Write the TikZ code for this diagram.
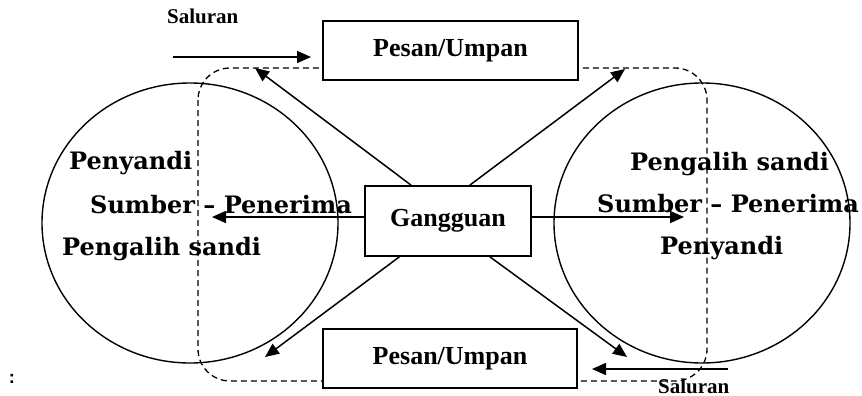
\documentclass[tikz,border=0pt]{standalone}
\usepackage{fontspec}
\usetikzlibrary{shapes.geometric,arrows.meta,calc}
\newfontfamily\boxfont{Liberation Serif}
\newfontfamily\rolefont{DejaVu Serif}

\begin{document}
\begin{tikzpicture}[x=1pt,y=-1pt,
  msgbox/.style={draw, line width=1.7pt, fill=white, inner sep=0pt,
    font=\boxfont\bfseries\fontsize{26}{30}\selectfont},
  party/.style={draw, ellipse, line width=1.4pt, inner sep=0pt,
    minimum width=296pt, minimum height=280pt},
  role/.style={anchor=base west, inner sep=0pt,
    font=\rolefont\bfseries\fontsize{24}{28}\selectfont},
  chan/.style={anchor=base west, inner sep=0pt,
    font=\boxfont\bfseries\fontsize{21}{24}\selectfont},
  flow/.style={line width=1.5pt, -{Triangle[length=14pt,width=12pt]}},
  zone/.style={line width=1.3pt, dash pattern=on 6pt off 4pt, rounded corners=32pt}]

\useasboundingbox (0,0) rectangle (862,396);

% the two communicating parties
\node[party] (lp) at (190,223) {};
\node[party] (rp) at (702,223) {};

% shared field of experience
\draw[zone] (198,68) rectangle (707,381);

% messages and noise
\node[msgbox, minimum width=255pt, minimum height=59pt] (top) at (450.5,50.5) {Pesan/Umpan};
\node[msgbox, minimum width=254pt, minimum height=59pt] (bot) at (450,358.5) {Pesan/Umpan};
\node[msgbox, minimum width=166pt, minimum height=70pt] (g) at (448,221) {Gangguan};

% arrow targets
\coordinate (tl) at (255,68);
\coordinate (tr) at (625,69);
\coordinate (bl) at (265,357);
\coordinate (br) at (627,357);
\coordinate (ml) at (212,217);
\coordinate (mr) at (684,217);

\draw[flow] ($(g.north west)!0.28!(g.north east)$) -- (tl);
\draw[flow] ($(g.north west)!0.63!(g.north east)$) -- (tr);
\draw[flow] ($(g.south west)!0.21!(g.south east)$) -- (bl);
\draw[flow] ($(g.south west)!0.75!(g.south east)$) -- (br);
\draw[flow] (g.west |- ml) -- (ml);
\draw[flow] (g.east |- mr) -- (mr);

% channels
\coordinate (c1a) at (173,57);
\coordinate (c1b) at (311,57);
\coordinate (c2a) at (728,369);
\coordinate (c2b) at (592,369);
\draw[flow] (c1a) -- (c1b);
\draw[flow] (c2a) -- (c2b);
\node[chan] (s1) at (167,24) {Saluran};
\node[chan] (s2) at (658,393) {Saluran};

% roles inside each party
\node[role] (l1) at (69,169) {Penyandi};
\node[role] (l2) at (90,213) {Sumber – Penerima};
\node[role] (l3) at (62,255) {Pengalih sandi};
\node[role] (r1) at (630,170) {Pengalih sandi};
\node[role] (r2) at (597,212) {Sumber – Penerima};
\node[role] (r3) at (660,254) {Penyandi};

\node[font=\sffamily\bfseries\fontsize{20}{22}\selectfont, inner sep=0pt] (colon) at (12,379) {:};
\end{tikzpicture}
\end{document}
